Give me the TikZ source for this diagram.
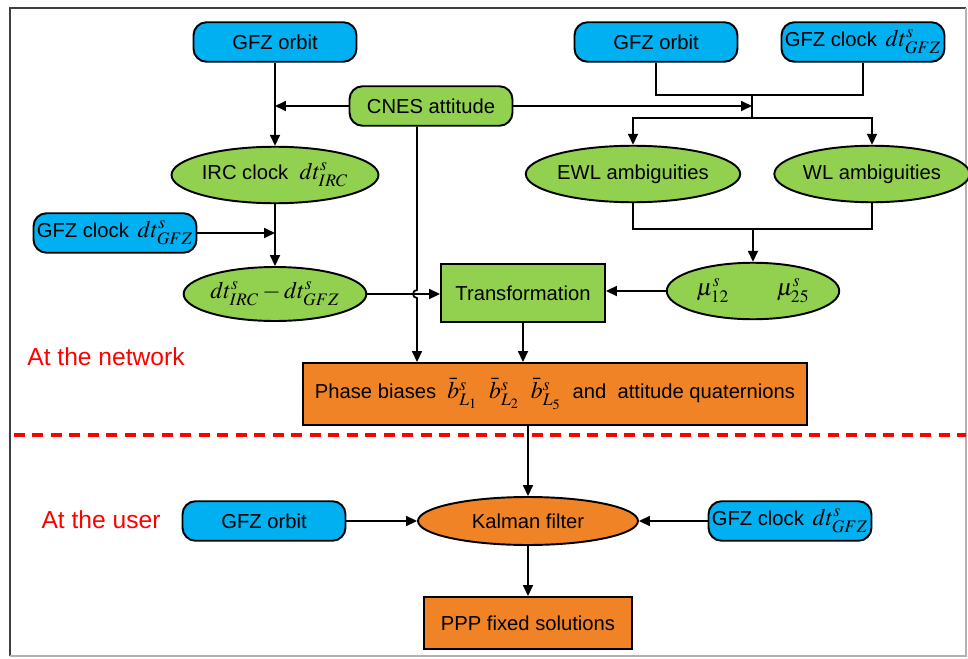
\documentclass[tikz,border=0pt]{standalone}
\usepackage{mathptmx}
\usepackage[no-math]{fontspec}
\setmainfont{Liberation Sans}
\usetikzlibrary{arrows.meta,shapes.geometric}
\definecolor{srcblue}{RGB}{0,176,240}
\definecolor{procgreen}{RGB}{146,208,80}
\definecolor{outorange}{RGB}{240,131,38}
\newcommand{\bigmath}[1]{{\fontsize{13.5}{16}\selectfont$#1$}}
\begin{document}
\begin{tikzpicture}
[x=0.02cm,y=-0.02cm,
  font=\fontsize{11.5}{14}\selectfont,
  srcdecorate/.style={shape=rectangle,rounded corners=0.26cm,draw,line width=1.1pt,
    fill=srcblue,minimum width=3.26cm,minimum height=0.79cm,inner sep=0pt},
  elldecorate/.style={shape=ellipse,draw,line width=1.1pt,fill=procgreen,
    minimum width=3.45cm,minimum height=1.13cm,inner sep=0pt},
  boxdecorate/.style={shape=rectangle,draw,line width=1.1pt,inner sep=0pt},
  linedecorate/.style={line width=1pt},
  arrowdecorate/.style={line width=1pt,-{Triangle[length=2.2mm,width=2mm]}},
  notedecorate/.style={text=red,font=\fontsize{14}{16}\selectfont}]
\useasboundingbox (0,0) rectangle (968,659);
%% frame
\draw[black!75,line width=1.2pt] (10,656) -- (10,8) -- (966,8);
\draw[black!30,line width=1pt] (966,8) -- (966,656) -- (10,656);
%% input boxes
\foreach \nodename/\x/\y/\txt in {orbA/275/42/{GFZ orbit}, orbB/656/42/{GFZ orbit},
  clkB/863/42/{GFZ clock\hspace{5pt}\bigmath{dt^{s}_{GFZ}}}, clkA/115/233/{GFZ clock\hspace{5pt}\bigmath{dt^{s}_{GFZ}}},
  orbC/264/521/{GFZ orbit}, clkC/790/521/{GFZ clock\hspace{5pt}\bigmath{dt^{s}_{GFZ}}}} {
  \node (\nodename) at (\x,\y) [srcdecorate] {\txt};
}
\node (cnes) at (431,106) [srcdecorate,fill=procgreen] {CNES attitude};
%% network side
\node (irc) at (275,175) [elldecorate] {IRC clock \ \bigmath{dt^{s}_{IRC}}};
\node (diff) at (275,294) [elldecorate,minimum height=1.08cm] {\bigmath{dt^{s}_{IRC}-dt^{s}_{GFZ}}};
\node (ewl) at (633,174) [elldecorate] {EWL ambiguities};
\node (wl) at (872,174) [elldecorate] {WL ambiguities};
\node (mu) at (753,291) [elldecorate] {\bigmath{\mu^{s}_{12}\qquad\mu^{s}_{25}}};
\node (trans) at (523,293) [boxdecorate,fill=procgreen,minimum width=3.28cm,
  minimum height=1.16cm] {Transformation};
\node (phase) at (555,394) [boxdecorate,fill=outorange,minimum width=10.1cm,
  minimum height=1.24cm] {Phase biases \ \bigmath{\bar{b}^{s}_{L_1}} \ \bigmath{\bar{b}^{s}_{L_2}} \
  \bigmath{\bar{b}^{s}_{L_5}} \ and \ attitude quaternions};
%% user side
\node (kal) at (528,521) [elldecorate,fill=outorange,minimum width=4.4cm,
  minimum height=0.96cm] {Kalman filter};
\node (ppp) at (528,623) [boxdecorate,fill=outorange,minimum width=4.16cm,
  minimum height=1.04cm] {PPP fixed solutions};
\node (net) at (106,357) [notedecorate] {At the network};
\node (usr) at (101,520) [notedecorate] {At the user};
%% helper points
\coordinate (jt) at (752,95);
\coordinate (jb) at (752,118);
\coordinate (jm) at (753,229);
\coordinate (cn) at (417,0);
%% edges or lines
\draw[arrowdecorate] (orbA) -- (irc);
\draw[arrowdecorate] (cnes.west) -- (cnes.west -| irc);
\draw[arrowdecorate] (clkA.east) -- (clkA.east -| irc);
\draw[arrowdecorate] (irc) -- (diff);
\draw[arrowdecorate] (diff.east) -- (diff.east -| trans.west);
\draw[arrowdecorate] (cn |- cnes.south) -- (417,290)
  arc[start angle=90,end angle=270,radius=0.08cm] -- (cn |- phase.north);
\draw[linedecorate] (orbB.south) |- (clkB.south |- jt) -- (clkB.south);
\draw[arrowdecorate] (cnes.east) -- (cnes.east -| jt);
\draw[linedecorate] (jt) -- (jb);
\draw[arrowdecorate] (jb) -| (ewl.north);
\draw[arrowdecorate] (jb) -| (wl.north);
\draw[linedecorate] (ewl.south) |- (wl.south |- jm) -- (wl.south);
\draw[arrowdecorate] (jm) -- (mu.north);
\draw[arrowdecorate] (mu.west) -- (mu.west -| trans.east);
\draw[arrowdecorate] (trans.south) -- (trans.south |- phase.north);
\draw[arrowdecorate] (kal.north |- phase.south) -- (kal.north);
\draw[arrowdecorate] (orbC.east) -- (kal.west);
\draw[arrowdecorate] (clkC.west) -- (kal.east);
\draw[arrowdecorate] (kal) -- (ppp);
%% border between network and user
\draw[red,line width=2pt,dash pattern=on 0.22cm off 0.15cm] (14,435) -- (966,435);
\end{tikzpicture}
\end{document}
